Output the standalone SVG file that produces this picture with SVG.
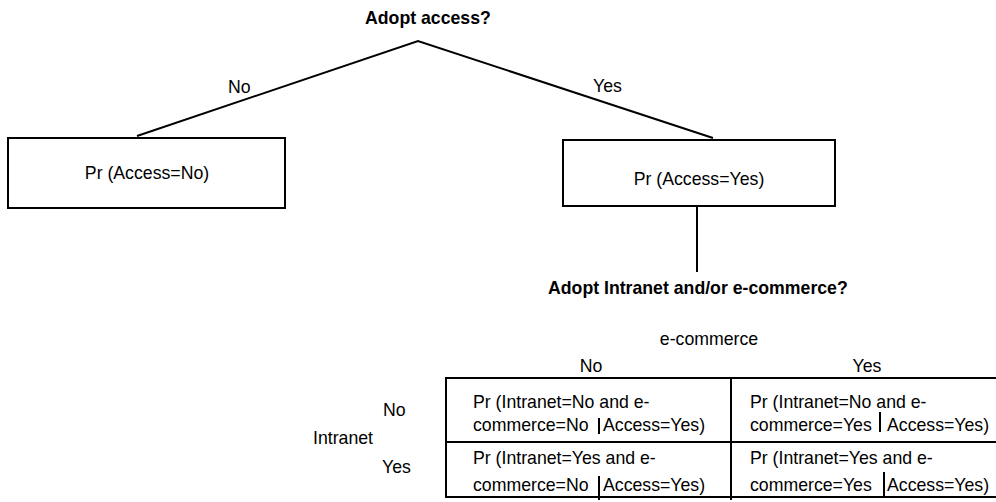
<svg xmlns="http://www.w3.org/2000/svg" width="996" height="502" viewBox="0 0 996 502">
<style>
text{font-family:"Liberation Sans",Arial,sans-serif;font-size:17.7px;fill:#000}
.b{font-weight:bold}
.m{text-anchor:middle}
.ln{stroke:#000;stroke-width:2;fill:none}
.box{stroke:#000;stroke-width:2;fill:#fff}
</style>
<rect width="996" height="502" fill="#fff"/>
<g id="connectors">
<polyline class="ln" points="137,136 418,41 713,138"/>
<line class="ln" x1="697" y1="206" x2="697" y2="272"/>
</g>
<g id="q1"><text class="b" x="365" y="24">Adopt access?</text></g>
<g id="lblNo"><text x="228" y="93">No</text></g>
<g id="lblYes"><text x="593" y="92">Yes</text></g>
<g id="accessNo">
<rect class="box" x="8" y="138" width="277" height="70"/>
<text class="m" x="147" y="179">Pr (Access=No)</text>
</g>
<g id="accessYes">
<rect class="box" x="563" y="140" width="272" height="66"/>
<text class="m" x="699" y="185">Pr (Access=Yes)</text>
</g>
<g id="q2"><text class="b" x="548" y="294">Adopt Intranet and/or e-commerce?</text></g>
<g id="table">
<text class="m" x="709" y="345">e-commerce</text>
<text class="m" x="591" y="372">No</text>
<text class="m" x="867" y="372">Yes</text>
<text x="383" y="416">No</text>
<text x="313" y="444">Intranet</text>
<text x="382" y="473">Yes</text>
<line class="ln" x1="446" y1="378" x2="996" y2="378"/>
<line class="ln" x1="446" y1="442" x2="996" y2="442"/>
<line class="ln" x1="446" y1="497" x2="996" y2="497"/>
<line class="ln" x1="446" y1="377" x2="446" y2="498"/>
<line class="ln" x1="731" y1="377" x2="731" y2="500"/>
</g>
<g id="cellNoNo">
<text x="473" y="408">Pr (Intranet=No and e-</text>
<text x="473" y="431">commerce=No</text>
<text x="603" y="431">Access=Yes)</text>
<line class="ln" x1="599" y1="418" x2="599" y2="434"/>
</g>
<g id="cellNoYes">
<text x="750" y="408">Pr (Intranet=No and e-</text>
<text x="750" y="431">commerce=Yes</text>
<text x="887" y="431">Access=Yes)</text>
<line class="ln" x1="880" y1="412" x2="880" y2="432"/>
</g>
<g id="cellYesNo">
<text x="473" y="464">Pr (Intranet=Yes and e-</text>
<text x="473" y="491">commerce=No</text>
<text x="603" y="491">Access=Yes)</text>
<line class="ln" x1="599" y1="476" x2="599" y2="500"/>
</g>
<g id="cellYesYes">
<text x="750" y="464">Pr (Intranet=Yes and e-</text>
<text x="750" y="491">commerce=Yes</text>
<text x="887" y="491">Access=Yes)</text>
<line class="ln" x1="884" y1="472" x2="884" y2="497"/>
</g>
</svg>
